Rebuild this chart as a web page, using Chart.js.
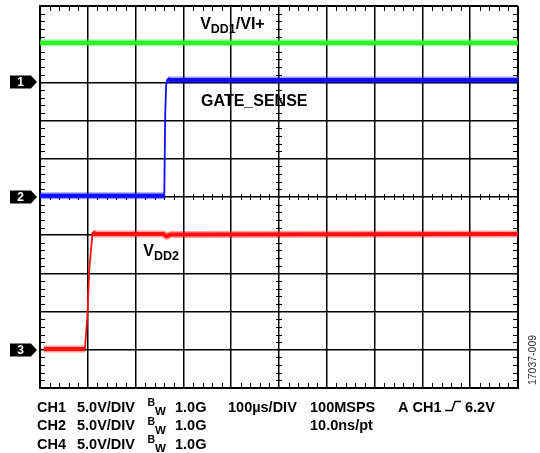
<!DOCTYPE html>
<html>
<head>
<meta charset="utf-8">
<script src="https://cdn.jsdelivr.net/npm/chart.js@4/dist/chart.umd.min.js"></script>
<style>
  html, body { margin: 0; padding: 0; background: #fff; }
  #wrap { width: 540px; height: 453px; position: relative; }
</style>
</head>
<body>
<div id="wrap"><canvas id="scope" width="540" height="453"></canvas></div>
<script>
// time axis in microseconds (100us/DIV, 10 divisions), vertical in screen divisions (0 = bottom)
const timeMin = 0;
const timeMax = 1000;
const divMin = 0;
const divMax = 10;

// VDD1/VI+ (green)
const vdd1Time = [0, 1000];
const vdd1Div = [9.04, 9.04];

// GATE_SENSE (blue)
const gateTime = [0, 260, 262, 264, 267, 272, 1000];
const gateDiv = [5.03, 5.03, 7.2, 7.95, 8.1, 8.06, 8.06];

// VDD2 (red)
const vdd2Time = [8, 94, 99, 103, 110, 116, 258, 265, 274, 1000];
const vdd2Div = [1.02, 1.02, 1.87, 3.09, 4.08, 4.03, 4.03, 3.97, 4.02, 4.03];

// channel ground markers on the left
const markerNames = ['1', '2', '3'];
const markerLevels = [8, 5, 1];

// trace labels: [time, div] of text start/baseline
const labelVdd1 = { main: 'V', sub: 'DD1', tail: '/VI+', t: 335, d: 9.41 };
const labelGate = { main: 'GATE_SENSE', sub: '', tail: '', t: 337, d: 7.38 };
const labelVdd2 = { main: 'V', sub: 'DD2', tail: '', t: 216, d: 3.45 };

// readout text under the screen
const chRows = ['CH1', 'CH2', 'CH4'];
const chScale = '5.0V/DIV';
const chBw = '1.0G';
const timeBase = '100\u00b5s/DIV';
const sampleRate = '100MSPS';
const samplePeriod = '10.0ns/pt';
const trigText = 'A CH1';
const trigLevel = '6.2V';
const figureId = '17037-009';

function pts(xs, ys) {
  return xs.map((x, i) => ({ x: x, y: ys[i] }));
}

// steep (edge) segments are drawn thin, flat ones carry the noise band
function steep(c) {
  return Math.abs(c.p1.y - c.p0.y) > 2.5 * Math.abs(c.p1.x - c.p0.x);
}

function trace(label, xs, ys, color, halo) {
  return {
    label: label,
    data: pts(xs, ys),
    borderColor: color,
    borderWidth: halo ? 7 : 4,
    borderJoinStyle: 'round',
    borderCapStyle: 'butt',
    segment: {
      borderWidth: c => steep(c) ? (halo ? 0.01 : 1.8) : undefined,
      borderColor: c => (halo && steep(c)) ? 'rgba(0,0,0,0)' : undefined
    }
  };
}

const FONT = '"Liberation Sans", Arial, Helvetica, sans-serif';

const scopeDecor = {
  id: 'scopeDecor',
  beforeDatasetsDraw(chart) {
    const { ctx, chartArea: a, scales } = chart;
    const xs = scales.x, ys = scales.y;
    ctx.save();
    ctx.strokeStyle = '#000';
    ctx.lineWidth = 1;
    ctx.beginPath();
    const cx = xs.getPixelForValue(500), cy = ys.getPixelForValue(5);
    for (let t = timeMin; t <= timeMax; t += 20) {
      if (t % 100 === 0) continue;
      const px = Math.round(xs.getPixelForValue(t)) + 0.5;
      ctx.moveTo(px, a.top); ctx.lineTo(px, a.top + 5);
      ctx.moveTo(px, a.bottom); ctx.lineTo(px, a.bottom - 5);
      ctx.moveTo(px, cy - 3); ctx.lineTo(px, cy + 3);
    }
    for (let d = 0; d <= 50; d += 1) {
      if (d % 5 === 0) continue;
      const py = Math.round(ys.getPixelForValue(d / 5)) + 0.5;
      ctx.moveTo(a.left, py); ctx.lineTo(a.left + 5, py);
      ctx.moveTo(a.right, py); ctx.lineTo(a.right - 5, py);
      ctx.moveTo(cx - 3, py); ctx.lineTo(cx + 3, py);
    }
    ctx.stroke();
    ctx.restore();
  },
  afterDraw(chart) {
    const { ctx, scales } = chart;
    const xs = scales.x, ys = scales.y;
    ctx.save();

    // channel markers
    markerLevels.forEach((lv, i) => {
      const y = Math.round(ys.getPixelForValue(lv));
      ctx.fillStyle = '#000';
      ctx.beginPath();
      ctx.moveTo(10, y - 6.5);
      ctx.lineTo(31, y - 6.5);
      ctx.lineTo(37, y);
      ctx.lineTo(31, y + 6.5);
      ctx.lineTo(10, y + 6.5);
      ctx.closePath();
      ctx.fill();
      ctx.fillStyle = '#fff';
      ctx.font = 'bold 12px ' + FONT;
      ctx.textAlign = 'center';
      ctx.textBaseline = 'middle';
      ctx.fillText(markerNames[i], 20.5, y + 1);
    });

    // trace labels
    ctx.fillStyle = '#000';
    ctx.textAlign = 'left';
    ctx.textBaseline = 'alphabetic';
    [labelVdd1, labelGate, labelVdd2].forEach(l => {
      let x = xs.getPixelForValue(l.t);
      const y = ys.getPixelForValue(l.d);
      ctx.font = 'bold 16px ' + FONT;
      ctx.fillText(l.main, x, y);
      x += ctx.measureText(l.main).width;
      if (l.sub) {
        ctx.font = 'bold 12.5px ' + FONT;
        ctx.fillText(l.sub, x, y + 4);
        x += ctx.measureText(l.sub).width;
      }
      if (l.tail) {
        ctx.font = 'bold 16px ' + FONT;
        ctx.fillText(l.tail, x, y);
      }
    });

    // readout block
    const big = 'bold 14.5px ' + FONT;
    const rowY = [411.5, 430, 448.5];
    chRows.forEach((ch, i) => {
      const y = rowY[i];
      ctx.font = big;
      ctx.fillText(ch, 37, y);
      ctx.fillText(chScale, 77, y);
      ctx.font = 'bold 10.5px ' + FONT;
      ctx.fillText('B', 147.5, y - 5.5);
      ctx.font = 'bold 11.5px ' + FONT;
      ctx.fillText('W', 155, y + 3.5);
      ctx.font = big;
      ctx.fillText(chBw, 175, y);
    });
    ctx.font = big;
    ctx.fillText(timeBase, 228, rowY[0]);
    ctx.fillText(sampleRate, 310, rowY[0]);
    ctx.fillText(samplePeriod, 310, rowY[1]);
    ctx.fillText(trigText, 398, rowY[0]);
    ctx.fillText(trigLevel, 465, rowY[0]);
    // rising edge trigger symbol
    ctx.strokeStyle = '#000';
    ctx.lineWidth = 1.5;
    ctx.beginPath();
    ctx.moveTo(445, 410.5);
    ctx.lineTo(452, 410.5);
    ctx.lineTo(455, 401.5);
    ctx.lineTo(461, 401.5);
    ctx.stroke();

    // figure id
    ctx.translate(536, 360);
    ctx.rotate(-Math.PI / 2);
    ctx.font = '10.5px ' + FONT;
    ctx.fillStyle = '#333';
    ctx.textAlign = 'center';
    ctx.fillText(figureId, 0, 0);
    ctx.restore();
  }
};

const edgeWidth = ctx => (ctx.index === 0 || ctx.index === 10) ? 2 : 1.5;

const config = {
  type: 'line',
  data: {
    datasets: [
      trace('VDD1/VI+ noise', vdd1Time, vdd1Div, 'rgba(42,245,42,0.45)', true),
      trace('GATE_SENSE noise', gateTime, gateDiv, 'rgba(16,16,255,0.4)', true),
      trace('VDD2 noise', vdd2Time, vdd2Div, 'rgba(255,16,16,0.4)', true),
      trace('VDD1/VI+', vdd1Time, vdd1Div, '#2af52a', false),
      trace('GATE_SENSE', gateTime, gateDiv, '#1010ff', false),
      trace('VDD2', vdd2Time, vdd2Div, '#ff1010', false)
    ]
  },
  options: {
    responsive: false,
    animation: false,
    parsing: false,
    layout: { padding: { left: 40, top: 6, right: 22, bottom: 65 } },
    elements: {
      line: { tension: 0, fill: false },
      point: { radius: 0 }
    },
    plugins: { legend: { display: false }, tooltip: { enabled: false } },
    scales: {
      x: {
        type: 'linear', min: timeMin, max: timeMax,
        ticks: { display: false, stepSize: 100 },
        grid: { color: '#000', lineWidth: edgeWidth, drawTicks: false },
        border: { display: true, color: '#000', width: 2 },
        afterFit: s => { s.height = 0; }
      },
      y: {
        type: 'linear', min: divMin, max: divMax,
        ticks: { display: false, stepSize: 1 },
        grid: { color: '#000', lineWidth: edgeWidth, drawTicks: false },
        border: { display: true, color: '#000', width: 2 },
        afterFit: s => { s.width = 0; }
      }
    }
  },
  plugins: [scopeDecor]
};

window.scopeChart = new Chart(document.getElementById('scope').getContext('2d'), config);
</script>
</body>
</html>
